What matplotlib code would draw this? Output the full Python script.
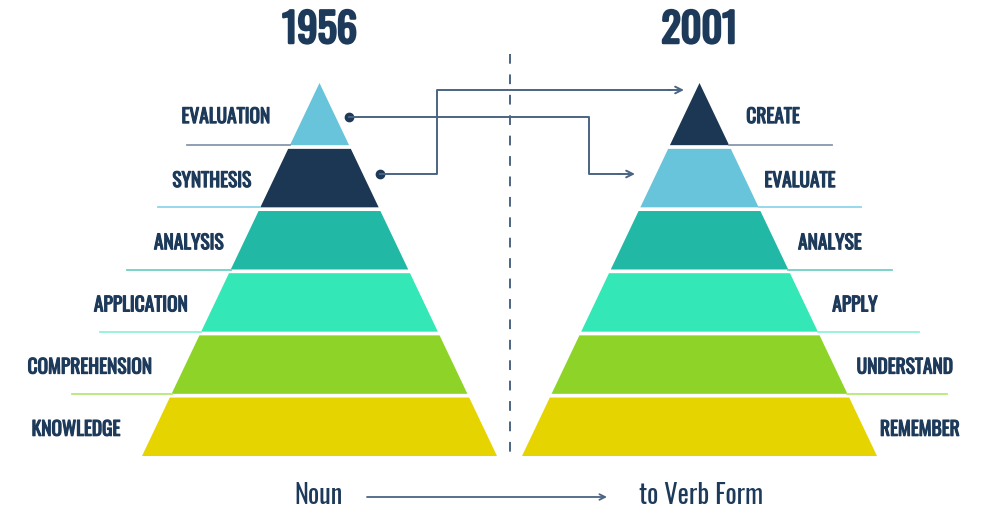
import numpy as np
import matplotlib.pyplot as plt
import matplotlib.patheffects as pe
from matplotlib import font_manager
from matplotlib.patches import Polygon

# --- data ---
years = ["1956", "2001"]
levels_1956 = ["EVALUATION", "SYNTHESIS", "ANALYSIS", "APPLICATION", "COMPREHENSION", "KNOWLEDGE"]
levels_2001 = ["CREATE", "EVALUATE", "ANALYSE", "APPLY", "UNDERSTAND", "REMEMBER"]
colors_1956 = ["#68c4da", "#1c3754", "#22b8a6", "#33e8b6", "#8ed428", "#e6d400"]
colors_2001 = ["#1c3754", "#68c4da", "#22b8a6", "#33e8b6", "#8ed428", "#e6d400"]
line_colors = ["#8797ab", "#8fd6ea", "#6fd0c4", "#8ff3d6", "#b8e87a"]
# how far each guide line reaches out from the pyramid centre
line_reach = [132.5, 161.5, 192.5, 219.5, 247.5]
# label centres
label_x_left = [226, 212, 189, 141, 90, 76]
label_x_right = [773, 800, 830, 855, 905, 920]

NAVY = "#1d3a5a"
LINE = "#4a6482"

# condensed font (Oswald if there, else a narrow fallback)
installed = {f.name for f in font_manager.fontManager.ttflist}
FAMILY = "DejaVu Sans"
for cand in ["Oswald", "Fjalla One", "Roboto Condensed", "Barlow Condensed", "Archivo Narrow"]:
    if cand in installed:
        FAMILY = cand
        break

# Oswald is only installed as one weight, so thicken the bold texts with a stroke
bold_small = [pe.withStroke(linewidth=0.8, foreground=NAVY)]
bold_big = [pe.withStroke(linewidth=1.8, foreground=NAVY)]

fig = plt.figure(figsize=(9.84, 5.10), dpi=100)
ax = fig.add_axes([0, 0, 1, 1])
ax.set_xlim(0, 984)
ax.set_ylim(510, 0)
ax.axis("off")

apex_y, base_y, half_base = 84, 457, 177.5
gap = 3.7
band_h = (base_y - apex_y) / len(levels_1956)
slope = half_base / (base_y - apex_y)


def pyramid(cx, labels, colors, side, title, label_x):
    n = len(labels)
    for i in range(n):
        y0 = apex_y + band_h * i + (gap if i else 0)
        y1 = apex_y + band_h * (i + 1)
        w0 = slope * (y0 - apex_y)
        w1 = slope * (y1 - apex_y)
        ax.add_patch(Polygon([(cx - w0, y0), (cx + w0, y0), (cx + w1, y1), (cx - w1, y1)],
                             closed=True, fc=colors[i], ec="none"))
        if i < n - 1:
            if side == "left":
                ax.plot([cx - line_reach[i], cx - w1], [y1, y1], color=line_colors[i], lw=1.3)
            else:
                ax.plot([cx + w1, cx + line_reach[i]], [y1, y1], color=line_colors[i], lw=1.3)
        yc = (y0 + y1) / 2 + 2
        ax.text(label_x[i], yc, labels[i], ha="center", va="center", fontsize=14,
                color=NAVY, family=FAMILY, path_effects=bold_small)
    ax.text(cx, 31, title, ha="center", va="center", fontsize=29,
            color=NAVY, family=FAMILY, path_effects=bold_big)


cx_left, cx_right = 319.5, 699.5
pyramid(cx_left, levels_1956, colors_1956, "left", years[0], label_x_left)
pyramid(cx_right, levels_2001, colors_2001, "right", years[1], label_x_right)

# dashed divider
ax.plot([510, 510], [55, 463], color=LINE, lw=1.4, dashes=(5, 5.5))

arrow = dict(arrowstyle="->", color=LINE, lw=1.4, shrinkA=0, shrinkB=0, mutation_scale=12)
# evaluation -> evaluate
ax.plot(349, 118, "o", color=NAVY, ms=6)
ax.plot([349, 589, 589, 620], [118, 118, 175, 175], color=LINE, lw=1.4)
ax.annotate("", xy=(635, 175), xytext=(618, 175), arrowprops=arrow)
# synthesis -> create
ax.plot(380, 175, "o", color=NAVY, ms=6)
ax.plot([380, 437, 437, 670], [175, 175, 91, 91], color=LINE, lw=1.4)
ax.annotate("", xy=(684, 91), xytext=(668, 91), arrowprops=arrow)

# bottom caption
ax.text(318, 496, "Noun", ha="center", va="center", fontsize=19, color=NAVY, family=FAMILY)
ax.annotate("", xy=(607, 498), xytext=(367, 498),
            arrowprops=dict(arrowstyle="->", color=LINE, lw=1.3, shrinkA=0, shrinkB=0))
ax.text(701, 496, "to Verb Form", ha="center", va="center", fontsize=19, color=NAVY, family=FAMILY)

fig.savefig("out.png", dpi=100, facecolor="white")
